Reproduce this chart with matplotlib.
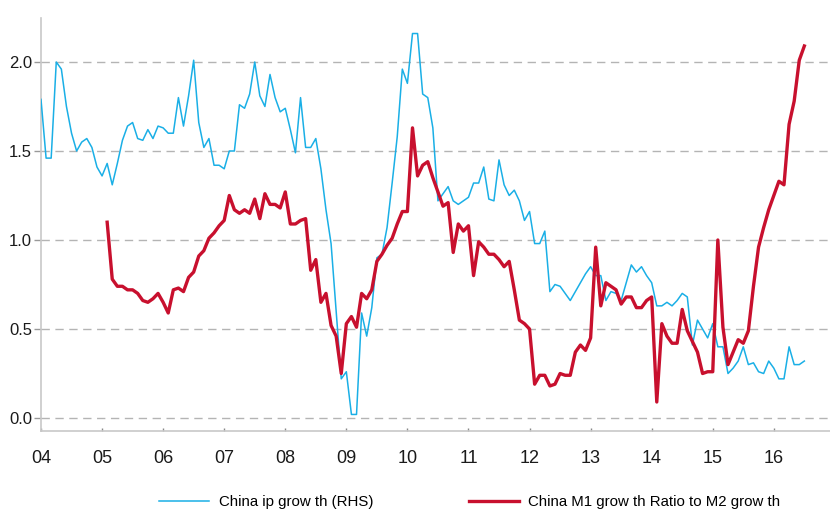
import numpy as np
import pandas as pd
import matplotlib
matplotlib.use("Agg")
import matplotlib.pyplot as plt
from matplotlib import font_manager

# monthly data, China ip growth from Jan 2004, M1/M2 ratio from Feb 2005
ip_start = "2004-01"
ip_growth = [
    1.79, 1.46, 1.46, 2.00, 1.96, 1.75, 1.60, 1.50, 1.55, 1.57, 1.52, 1.41,
    1.36, 1.43, 1.31, 1.43, 1.56, 1.64, 1.66, 1.57, 1.56, 1.62, 1.57, 1.64,
    1.63, 1.60, 1.60, 1.80, 1.64, 1.81, 2.01, 1.66, 1.52, 1.57, 1.42, 1.42,
    1.40, 1.50, 1.50, 1.76, 1.74, 1.82, 2.00, 1.81, 1.75, 1.93, 1.80, 1.72,
    1.74, 1.62, 1.49, 1.80, 1.52, 1.52, 1.57, 1.40, 1.17, 0.98, 0.60, 0.22,
    0.26, 0.02, 0.02, 0.59, 0.46, 0.62, 0.90, 0.92, 1.07, 1.32, 1.58, 1.96,
    1.88, 2.16, 2.16, 1.82, 1.80, 1.63, 1.22, 1.26, 1.30, 1.22, 1.20, 1.22,
    1.24, 1.32, 1.32, 1.41, 1.23, 1.22, 1.45, 1.31, 1.25, 1.28, 1.22, 1.11,
    1.16, 0.98, 0.98, 1.05, 0.71, 0.75, 0.74, 0.70, 0.66, 0.71, 0.76, 0.81,
    0.85, 0.80, 0.80, 0.66, 0.71, 0.70, 0.66, 0.76, 0.86, 0.82, 0.85, 0.80,
    0.76, 0.63, 0.63, 0.65, 0.63, 0.66, 0.70, 0.68, 0.41, 0.55, 0.50, 0.45,
    0.53, 0.40, 0.40, 0.25, 0.28, 0.32, 0.40, 0.30, 0.31, 0.26, 0.25, 0.32,
    0.28, 0.22, 0.22, 0.40, 0.30, 0.30, 0.32,
]

m1m2_start = "2005-02"
m1m2_ratio = [
    1.10, 0.78, 0.74, 0.74, 0.72, 0.72, 0.70, 0.66, 0.65, 0.67, 0.70,
    0.65, 0.59, 0.72, 0.73, 0.71, 0.79, 0.82, 0.91, 0.94, 1.01, 1.04, 1.08,
    1.11, 1.25, 1.17, 1.15, 1.17, 1.15, 1.23, 1.12, 1.26, 1.20, 1.20, 1.18,
    1.27, 1.09, 1.09, 1.11, 1.12, 0.83, 0.89, 0.65, 0.70, 0.52, 0.46, 0.25,
    0.53, 0.57, 0.51, 0.70, 0.67, 0.72, 0.88, 0.92, 0.97, 1.01, 1.09, 1.16,
    1.16, 1.63, 1.36, 1.42, 1.44, 1.35, 1.27, 1.19, 1.21, 0.93, 1.09, 1.05,
    1.08, 0.80, 0.99, 0.96, 0.92, 0.92, 0.89, 0.85, 0.88, 0.72, 0.55, 0.53,
    0.50, 0.19, 0.24, 0.24, 0.18, 0.19, 0.25, 0.24, 0.24, 0.37, 0.41, 0.38,
    0.45, 0.96, 0.63, 0.76, 0.74, 0.72, 0.64, 0.68, 0.68, 0.62, 0.62, 0.66,
    0.68, 0.09, 0.53, 0.46, 0.42, 0.42, 0.61, 0.49, 0.43, 0.37, 0.25, 0.26,
    0.26, 1.00, 0.51, 0.30, 0.37, 0.44, 0.42, 0.49, 0.74, 0.96, 1.07, 1.17,
    1.25, 1.33, 1.31, 1.65, 1.78, 2.01, 2.09,
]

year_ticks = list(range(2004, 2017))
year_labels = [f"{y % 100:02d}" for y in year_ticks]
y_ticks = [0.0, 0.5, 1.0, 1.5, 2.0]

labels = ["China ip grow th (RHS)", "China M1 grow th Ratio to M2 grow th"]


def decimal_years(start, n):
    d = pd.period_range(start, periods=n, freq="M")
    return d.year + (d.month - 1) / 12.0


# pick a narrow sans if there is one
family = ["Liberation Sans"]
try:
    font_manager.findfont("Liberation Sans Narrow", fallback_to_default=False)
    family = ["Liberation Sans Narrow"]
except Exception:
    pass
plt.rcParams["font.family"] = family + ["DejaVu Sans"]

fig = plt.figure(figsize=(8.3, 5.14), dpi=100)
ax = fig.add_axes([41 / 830, 83 / 514, 1 - 41 / 830, 413.5 / 514])

x_ip = decimal_years(ip_start, len(ip_growth))
x_m = decimal_years(m1m2_start, len(m1m2_ratio))

blue = "#1AAFE6"
red = "#C8102E"
l1, = ax.plot(x_ip, ip_growth, color=blue, lw=1.1, zorder=3)
l2, = ax.plot(x_m, m1m2_ratio, color=red, lw=2.4, zorder=4)

ax.set_xlim(2004, 2016.92)
ax.set_ylim(-0.073, 2.25)

ax.set_yticks(y_ticks)
ax.set_yticklabels([f"{v:.1f}" for v in y_ticks])
ax.set_xticks(year_ticks)
ax.set_xticklabels(year_labels)

for v in y_ticks:
    ax.axhline(v, color="#b4b4b4", lw=1.0, ls=(0, (6, 4)), zorder=1)

for s in ["top", "right"]:
    ax.spines[s].set_visible(False)
for s in ["left", "bottom"]:
    ax.spines[s].set_color("#c8c8c8")
    ax.spines[s].set_linewidth(1.2)

ax.tick_params(axis="y", direction="out", length=5, width=1, color="#999999",
               pad=1.5, labelsize=12, labelcolor="#1a1a1a")
ax.tick_params(axis="x", direction="in", length=2.5, width=1, color="#888888",
               pad=14, labelsize=13, labelcolor="#1a1a1a")

fig.legend([l1, l2], labels, loc="center", bbox_to_anchor=(470 / 830, 1 - 502 / 514),
           ncol=2, frameon=False, fontsize=10.8, handlelength=3.3,
           handletextpad=0.65, columnspacing=6.4)

fig.savefig("out.png", dpi=100)
